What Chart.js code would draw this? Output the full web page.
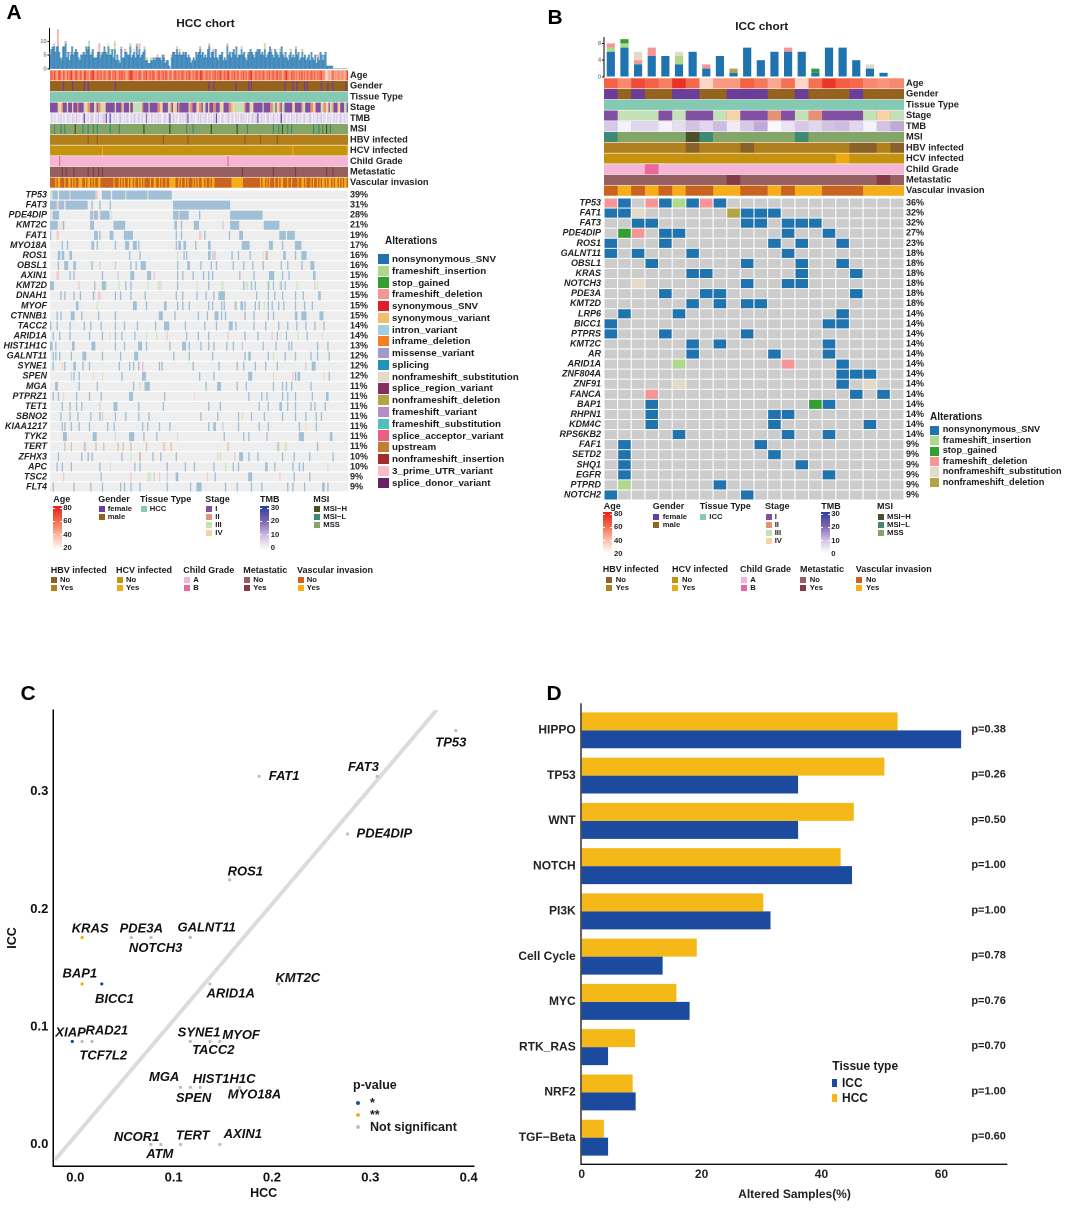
<!DOCTYPE html>
<html>
<head>
<meta charset="utf-8">
<title>HCC / ICC chort</title>
<script src="https://cdn.jsdelivr.net/npm/chart.js@4/dist/chart.umd.min.js"></script>
<style>
  html, body { margin: 0; padding: 0; background: #fff; }
  #page { position: relative; width: 1065px; height: 1209px; overflow: hidden; font-family: "Liberation Sans", Arial, sans-serif; color: #1a1a1a; filter: blur(0.3px); }
  #page canvas { position: absolute; display: block; }
  .t { position: absolute; white-space: nowrap; line-height: 1; transform: translateY(-50%); }
  .s { position: absolute; }
</style>
</head>
<body>
<div id="page"></div>
<script>
// ---------- alteration types ----------
const altNames = ["nonsynonymous_SNV", "frameshift_insertion", "stop_gained", "frameshift_deletion", "synonymous_SNV", "synonymous_variant", "intron_variant", "inframe_deletion", "missense_variant", "splicing", "nonframeshift_substitution", "splice_region_variant", "nonframeshift_deletion", "frameshift_variant", "frameshift_substitution", "splice_acceptor_variant", "upstream", "nonframeshift_insertion", "3_prime_UTR_variant", "splice_donor_variant"];
const altColors = ["#1f74b0", "#aed98c", "#339f33", "#f69596", "#e01f26", "#f7bd6e", "#a3cde2", "#f47f20", "#a09bc9", "#2293b8", "#e3dac8", "#842f5f", "#b3a545", "#b98cc2", "#50bfbd", "#ec5f7e", "#c47c33", "#a12c2d", "#f6bccb", "#6a2063"];
const altLegendB = [0, 1, 2, 3, 10, 12];

// ---------- panel A (HCC) ----------
const samplesA = 230;
const genesA = ["TP53", "FAT3", "PDE4DIP", "KMT2C", "FAT1", "MYO18A", "ROS1", "OBSL1", "AXIN1", "KMT2D", "DNAH1", "MYOF", "CTNNB1", "TACC2", "ARID1A", "HIST1H1C", "GALNT11", "SYNE1", "SPEN", "MGA", "PTPRZ1", "TET1", "SBNO2", "KIAA1217", "TYK2", "TERT", "ZFHX3", "APC", "TSC2", "FLT4"];
const percentA = ["39%", "31%", "28%", "21%", "19%", "17%", "16%", "16%", "15%", "15%", "15%", "15%", "15%", "14%", "14%", "13%", "12%", "12%", "12%", "11%", "11%", "11%", "11%", "11%", "11%", "11%", "10%", "10%", "9%", "9%"];
// samples carrying a nonsynonymous_SNV, one list per gene; [a,b] is a run
const snvA = [
  [[0,5],[7,36],[40,46],[48,93]],
  [[0,4],[7,10],[12,28],32,38,46,[95,138]],
  [[2,6],[31,36],[39,45],[95,106],115,[139,163]],
  [[0,5],10,[31,33],[49,57],[96,97],101,[111,114],[139,145],[165,176]],
  [0,[34,36],38,[46,48],[57,63],97,101,119,138,[146,148],[177,181],[183,188]],
  [9,13,[32,33],36,50,58,[59,60],[64,66],68,97,[99,100],[103,104],112,[122,123],[148,153],[169,171],179,[189,193]],
  [[6,7],[9,10],[15,16],61,69,103,105,[122,123],140,145,154,180,181,189,[194,197]],
  [6,[11,13],[18,19],32,62,66,[70,73],98,[106,107],116,124,128,141,149,156,164,178,183,194,[201,203]],
  [15,18,40,[62,64],[75,77],98,102,110,118,122,125,146,157,[169,172],179,184,[203,204]],
  [[0,2],34,[40,42],58,62,98,122,149,155,158,168,172,178,181,204],
  [8,11,18,23,33,50,54,62,73,97,102,113,120,126,[130,134],159,168,173,179,189,195,[207,208]],
  [20,21,[64,66],74,[88,89],98,102,107,122,125,132,134,143,[147,148],150,158,161,168,171,176,180,189,196,202],
  [5,8,[16,18],24,37,50,[84,86],96,114,121,[127,129],132,135,150,157,168,172,[189,190],[194,197],[208,210]],
  [0,5,15,26,31,39,50,57,67,81,[88,91],104,119,128,[138,140],143,157,166,176,183,190,197,204,211],
  [2,7,15,30,40,50,55,65,105,114,122,150,160,175,182,198],
  [[0,1],4,[17,18],[32,34],50,57,[68,70],74,92,[102,104],107,116,122,126,136,141,164,174,184,186,206,214],
  [2,4,7,16,[25,27],40,54,[65,67],95,107,125,150,[153,154],168,181,189,201,206,215],
  [2,11,[18,19],25,30,53,61,64,68,84,86,110,130,144,149,158,166,175,[202,204]],
  [18,22,55,[71,73],115,126,[153,155],189,[191,192],215],
  [[4,5],22,36,64,[73,76],120,[129,131],144,151,172,179,182,186,201],
  [2,6,20,30,39,[61,63],88,153,163,167,179,183,189,202,[213,214]],
  [9,15,20,24,[49,51],68,87,122,131,161,168,[177,178],183,189,201,204,212],
  [8,15,21,31,38,50,58,68,76,116,129,145,155,165,179,189,197,205,209],
  [9,11,16,22,30,44,49,71,75,84,92,122,[126,127],145,161,168,192,205],
  [[10,12],[33,35],[61,64],72,82,134,149,153,167,[192,195],[216,217]],
  [206],
  [6,24,29,32,55,79,85,97,[146,148],153,160,179,188,200,218],
  [5,9,16,38,65,69,90,104,111,126,141,145,[166,167],173,187,192,195],
  [39,97,98,127,153,[154,155],188,200],
  [2,18,31,40,54,57,62,69,90,108,113,[114,116],135,144,155,163,183,187,196,[210,211],214]
];
// other alterations: [gene row, sample, type]
const otherA = [
  [0,0,1],[0,1,1],[0,15,3],[0,35,3],[0,36,3],[0,58,1],[0,75,1],[1,5,3],[1,6,3],[2,0,3],[2,38,3],[2,33,3],[2,47,1],[2,99,3],
  [3,7,1],[3,9,5],[3,133,8],[4,5,3],[4,6,3],[4,115,3],[4,116,3],[6,98,1],[6,125,8],[6,126,3],[6,127,13],[6,164,1],[6,166,3],[6,167,11],
  [7,38,3],[7,50,8],[8,5,3],[8,6,3],[8,52,8],[8,80,3],[9,22,3],[9,43,1],[9,53,1],[9,75,1],[9,83,1],[9,84,1],[9,85,1],[9,113,1],[9,132,1],[9,133,1],[9,151,1],[9,152,1],[9,169,1],[9,177,1],[9,190,1],[9,204,3],[9,206,1],
  [10,34,1],[10,37,3],[10,38,3],[11,36,1],[11,142,1],[11,165,1],[14,46,5],[14,74,1],[14,82,1],[14,90,3],[14,137,3],[14,171,3],[14,178,18],[14,191,1],[14,210,18],
  [15,148,8],[16,172,1],[17,9,5],[17,71,15],[17,197,8],[18,16,8],[18,33,5],[18,40,5],[18,172,5],[18,187,3],[18,211,5],[19,69,1],[20,10,5],[20,111,18],
  [21,38,3],[22,148,5],[22,40,8],[23,133,8],[23,197,5],[24,98,1],[24,50,6],
  [25,11,16],[25,16,16],[25,26,16],[25,27,8],[25,35,16],[25,41,16],[25,52,16],[25,56,16],[25,62,16],[25,74,16],[25,87,3],[25,88,3],[25,93,16],[25,137,16],[25,175,8],[25,176,16],[25,181,1],[25,182,1],
  [26,69,17],[26,62,1],[26,129,1],[26,131,1],[26,142,3],[27,46,1],[27,135,1],[27,214,1],
  [28,10,3],[28,62,3],[28,75,1],[28,76,1],[28,77,1],[28,80,8],[28,84,3],[28,90,8],[28,121,3],[28,177,3]
];
// top bars: nonsynonymous count per sample, then extras as [sample, count, type]
const barSnvA = [
  5,7,8,8,6,8,8,6,4,3,8,8,9,4,6,3,5,8,5,6,
  7,6,4,3,5,5,6,5,8,7,8,5,5,7,4,4,4,6,6,4,
  5,6,8,6,5,8,5,5,7,4,7,3,5,3,2,7,4,4,6,6,
  5,5,8,4,5,6,4,8,5,7,4,5,6,7,3,3,2,2,3,3,
  4,3,4,4,4,4,3,5,4,2,3,3,1,0,4,6,6,5,7,5,
  6,5,5,6,5,6,4,5,4,2,3,4,3,6,5,6,7,5,6,4,
  5,4,7,8,4,6,6,4,7,4,3,5,5,6,3,4,3,8,5,6,
  4,6,7,5,8,4,5,5,7,5,6,4,3,5,6,7,6,5,4,6,
  6,7,7,5,6,5,7,4,5,6,8,6,5,4,7,6,5,4,6,8,
  5,4,6,4,3,5,6,4,5,4,7,5,6,3,4,6,4,5,3,4,
  5,3,6,4,3,5,2,4,3,6,5,3,5,6,1,1,1,1,1,0,
  0,0,0,0,0,0,0,0,0,0
];
const barOtherA = [[0,1,5],[3,1,6],[6,6,3],[9,1,1],[12,1,8],[16,1,3],[25,1,10],[29,1,5],[30,2,1],[32,1,3],[36,1,10],[38,3,3],[39,1,1],[40,1,3],[45,1,10],[46,2,1],[50,2,1],[50,1,10],[55,1,8],[58,1,3],[62,1,1],[65,1,10],[67,1,8],[69,2,3],[73,1,1],[75,1,5],[78,1,1],[83,1,3],[88,1,3],[94,1,3],[98,1,5],[100,1,1],[104,1,3],[116,1,8],[123,1,3],[126,1,13],[130,1,1],[137,1,3],[148,1,1],[153,1,5],[160,1,8],[166,2,1],[171,1,3],[178,1,1],[180,1,10],[186,1,1],[190,1,3],[195,1,1],[207,1,3]];
// clinical tracks
const ageA = [
  58,62,48,66,55,42,60,70,52,46,62,56,40,64,50,58,72,54,44,60,
  66,52,48,62,58,38,70,64,50,56,42,60,66,72,54,46,62,58,50,68,
  44,56,62,48,52,60,66,40,58,54,64,50,46,62,56,68,52,60,48,44,
  56,62,76,66,54,50,60,46,58,64,52,42,60,56,68,48,54,62,50,66,
  58,44,52,60,64,48,56,62,50,68,54,46,58,60,42,52,66,56,50,62,
  48,58,64,54,46,60,52,66,56,44,62,50,58,68,48,54,78,60,52,46,
  62,56,50,64,42,58,54,66,48,60,52,70,56,46,62,58,50,80,54,44,
  60,52,66,48,56,62,40,58,54,64,50,60,46,56,68,72,52,44,60,58,
  48,62,54,50,66,56,42,60,52,64,46,58,62,50,54,68,48,60,56,44,
  52,62,74,58,50,46,64,54,60,48,56,42,62,52,66,50,58,46,60,54,
  48,64,56,50,62,44,58,52,60,66,48,54,36,30,34,46,38,50,62,44,
  50,42,54,48,44,52,46,40,50,70
];
const tmbA = [
  4,8,3,6,5,2,7,4,9,3,6,5,2,8,4,6,3,7,5,4,
  9,3,6,4,2,8,22,5,4,7,3,6,9,5,2,8,4,10,3,6,
  5,9,7,20,4,6,24,5,3,8,4,6,2,7,9,5,3,6,4,8,
  5,2,7,4,6,9,3,5,8,4,6,7,3,5,18,4,6,2,8,5,
  4,7,3,9,5,6,2,4,8,6,3,7,22,5,4,9,3,6,5,2,
  8,4,7,3,6,9,20,5,4,8,3,6,2,5,7,4,9,3,6,5,
  8,2,7,4,6,3,9,5,24,4,7,2,6,8,3,5,4,9,6,3,
  7,5,2,8,4,6,3,9,5,7,4,6,2,8,3,5,9,4,6,7,
  22,3,5,8,4,6,2,7,9,3,5,4,8,6,2,7,3,5,28,4,
  6,9,3,5,7,2,8,4,6,3,9,5,4,7,2,6,8,3,5,4,
  9,6,2,7,3,5,8,4,6,9,3,7,5,2,8,4,6,3,5,7,
  4,8,2,6,9,3,5,7,4,6
];
const stageRunsA = [1,6,3,1,4,2,2,1,1,3,3,1,1,3,4,1,1,3,2,1,1,4,3,1,4,2,2,2,1,3,3,1,4,1,1,1,2,2,3,2,4,2,1,7,3,1,1,4,2,1,3,1,1,4,4,1,1,2,3,7,2,1,1,4,3,1,1,6,2,2,4,2,1,4,3,2,2,1,1,1,4,2,3,1,1,1,2,1,1,7,3,1,2,2,1,3,4,2,2,2,1,1,3,2,1,2,4,1,1,3,2,2,1,3,3,1,4,2,1,4,2,2,3,1,4,2,3,7,2,1,1,3,3,1,4,2,1,7,3,1,1,5,2,2,3,2,1,1,4,2,2,1,1,1,3,2,1,6,4,2,1,5,2,1,3,2,1,4,2,2,4,2,1,4,3,2,2,2,4,2,1,1,3,2,2,1,1,3,4,2,1,3,3,2,1,1];
const vascRunsA = [4,1,1,2,3,1,2,2,1,1,1,1,2,3,2,1,1,2,1,1,1,1,2,2,10,1,3,1,1,1,1,1,2,1,1,2,1,1,2,1,1,1,1,1,4,1,2,2,2,1,1,1,2,1,2,5,2,1,1,1,2,1,1,1,3,1,1,1,1,1,2,2,1,1,2,1,1,2,13,9,13,1,1,2,1,1,1,1,3,1,2,1,1,2,3,1,2,1,4,1,2,2,1,1,3,1,1,1,2,1,1,1,1,2,1,1,1,2,1,1,1,2,1,1,1,1,1,2,1];
const femaleA = [10,17,26,29,50,122,126,143,153,155,181,187,190,196,198,209,214,218,228];
const msiLowA = [3,8,11,25,29,33,36,46,53,105,110,152,172,176,183,186,203,207,210,216];
const msiHighA = [19,72,92,124,144,179,213];
const hbvNoA = [29,36,87,106,150,162,175];
const hcvYesA = [40,187,229];
const childBA = [7,137];
const metYesA = [9,12,18,29,33,37,40,148,172,189,213,218];

// ---------- panel B (ICC) ----------
const samplesB = 22;
const genesB = ["TP53", "FAT1", "FAT3", "PDE4DIP", "ROS1", "GALNT11", "OBSL1", "KRAS", "NOTCH3", "PDE3A", "KMT2D", "LRP6", "BICC1", "PTPRS", "KMT2C", "AR", "ARID1A", "ZNF804A", "ZNF91", "FANCA", "BAP1", "RHPN1", "KDM4C", "RPS6KB2", "FAF1", "SETD2", "SHQ1", "EGFR", "PTPRD", "NOTCH2"];
const percentB = ["36%", "32%", "32%", "27%", "23%", "18%", "18%", "18%", "18%", "18%", "18%", "14%", "14%", "14%", "14%", "14%", "14%", "14%", "14%", "14%", "14%", "14%", "14%", "14%", "9%", "9%", "9%", "9%", "9%", "9%"];
const snvB = [
  [1,4,6,8],[0,1,10,11,12],[2,3,10,11,13,14,15],[4,5,13,16],[0,4,12,14,17],[0,2,6,13],[3,10,14,17],[6,7,14,18],[10,13,14],[4,7,8,18],
  [6,8,10,11],[1,5,17],[0,16,17],[0,4,10],[6,8,16],[6,12,16],[17],[17,18,19],[17],[18,20],[3,16],[3,12,13],[3,12,19],[5,13,16],
  [1,11],[1,12],[1,14],[1,16],[8],[0,10]
];
const otherB = [[0,0,3],[0,3,3],[0,5,1],[0,7,3],[1,2,10],[1,9,12],[3,1,2],[3,2,3],[8,2,10],[16,5,1],[16,13,3],[18,5,10],[18,19,10],[19,3,3],[20,15,2],[28,1,1]];
const barSnvB = [6,7,3,5,5,3,6,2,5,1,7,4,6,6,6,1,7,7,4,2,1,0];
const barOtherB = [[0,1,1],[0,1,3],[1,1,1],[1,1,2],[2,1,3],[2,2,10],[3,2,3],[5,2,1],[5,1,10],[7,1,3],[9,1,12],[13,1,3],[15,1,2],[19,1,10]];
const ageB = [62,52,68,62,55,75,60,32,48,48,62,56,45,58,32,58,74,63,60,52,50,52];
const stageB = [1,3,3,3,1,3,1,1,3,4,1,1,2,1,3,2,1,1,1,3,4,3];
const tmbB = [8,2,6,6,2,5,9,6,10,3,8,12,1,4,8,6,9,10,6,2,9,12];
const femaleB = [0,2,5,6,9,10,11,14,18];
const msiLowB = [0,7,14];
const msiHighB = [6];
const hbvNoB = [6,10,18,19,21];
const hcvYesB = [17];
const childBB = [3];
const metYesB = [9,20];
const vascYesB = [1,3,5,8,9,12,14,15,19,20,21];

const trackNames = ["Age", "Gender", "Tissue Type", "Stage", "TMB", "MSI", "HBV infected", "HCV infected", "Child Grade", "Metastatic", "Vascular invasion"];

// ---------- panel C ----------
const genesC = ["TP53", "FAT3", "PDE4DIP", "FAT1", "ROS1", "KMT2C", "ARID1A", "GALNT11", "PDE3A", "NOTCH3", "KRAS", "BAP1", "BICC1", "XIAP", "RAD21", "TCF7L2", "SYNE1", "TACC2", "MYOF", "MGA", "SPEN", "HIST1H1C", "MYO18A", "NCOR1", "ATM", "TERT", "AXIN1"];
const hccFreq = [0.39, 0.31, 0.28, 0.19, 0.16, 0.21, 0.14, 0.12, 0.06, 0.08, 0.01, 0.01, 0.03, 0, 0.01, 0.02, 0.12, 0.14, 0.15, 0.11, 0.12, 0.13, 0.17, 0.08, 0.09, 0.11, 0.15];
const iccFreq = [0.352, 0.313, 0.264, 0.313, 0.225, 0.1365, 0.1365, 0.176, 0.176, 0.176, 0.176, 0.1365, 0.1365, 0.0876, 0.0876, 0.0876, 0.0876, 0.0876, 0.0876, 0.0486, 0.0486, 0.0486, 0.0486, 0, 0, 0, 0];
const pGroupC = [2, 2, 2, 2, 2, 2, 2, 2, 2, 2, 1, 1, 0, 0, 2, 2, 2, 2, 2, 2, 2, 2, 2, 2, 2, 2, 2]; // 0 *, 1 **, 2 not significant
const diagonalX = [-0.0176, 0.3705];
const diagonalY = [-0.0132, 0.3694];
const pLabels = ["*", "**", "Not significant"];
const pColors = ["#1a4a9c", "#f2ae14", "#bdbdbd"];
// where each gene name sits relative to its dot, in px
const labelShiftC = [[-5,12.7],[-13.7,-9],[36.7,0],[25,0],[15.7,-7.7],[19,-5.7],[20.7,10],[16.3,-9.7],[10,-8.3],[4.7,11],[8,-8.3],[-2.3,-10],[12.7,15.7],[-1.7,-8.3],[24.7,-10.7],[11.3,14.3],[8.7,-8.3],[3.3,9],[21.3,-6],[-16.3,-10],[3.3,11],[24,-8],[15,7.7],[-14.3,-7],[-1,9.7],[12.3,-8.7],[23,-10.3]];

// ---------- panel D ----------
const pathways = ["HIPPO", "TP53", "WNT", "NOTCH", "PI3K", "Cell Cycle", "MYC", "RTK_RAS", "NRF2", "TGF\u2212Beta"];
const hccAltered = [52.7, 50.5, 45.4, 43.2, 30.3, 19.2, 15.8, 8.9, 8.5, 3.7];
const iccAltered = [63.3, 36.1, 36.1, 45.1, 31.5, 13.5, 18, 4.4, 9, 4.4];
const pathwayP = ["p=0.38", "p=0.26", "p=0.50", "p=1.00", "p=1.00", "p=0.78", "p=0.76", "p=0.70", "p=1.00", "p=0.60"];

// ---------- track colours ----------
const FONT = '"Liberation Sans", Arial, sans-serif';
const stageColors = { 1: "#8250a3", 2: "#e59174", 3: "#c3e0b6", 4: "#f6d3a2" };
const genderColors = ["#6a3d98", "#96631f"];
const tissueColor = "#84cab3";
const msiColors = ["#4b5025", "#3f8a74", "#84a568"];
const hbvColors = ["#8a6228", "#b17f1c"];
const hcvColors = ["#c4920f", "#efa912"];
const childColors = ["#f5b6d6", "#e8689b"];
const metColors = ["#95605f", "#863a49"];
const vascColors = ["#c8641f", "#f5ad19"];
const ageStops = [[20, [255,255,255]], [40, [251,187,165]], [60, [244,105,74]], [80, [232,31,27]]];
const tmbStops = [[0, [255,255,255]], [10, [205,188,224]], [20, [123,100,174]], [30, [43,63,155]]];

function rampColor(stops, v) {
  for (let i = 1; i < stops.length; i++) {
    if (v <= stops[i][0]) {
      const a = stops[i - 1], b = stops[i], f = (v - a[0]) / (b[0] - a[0]);
      return "rgb(" + a[1].map((c, k) => Math.round(c + (b[1][k] - c) * f)).join(",") + ")";
    }
  }
  return "rgb(" + stops[stops.length - 1][1].join(",") + ")";
}
function marked(n, list, colors) {
  const out = [];
  for (let i = 0; i < n; i++) out.push(list.includes(i) ? colors[1] : colors[0]);
  return out;
}
function expandPairs(runs) {
  const out = [];
  for (let i = 0; i < runs.length; i += 2) for (let k = 0; k < runs[i + 1]; k++) out.push(runs[i]);
  return out;
}
function expandAlternating(runs) {
  const out = [];
  runs.forEach((len, i) => { for (let k = 0; k < len; k++) out.push(i % 2); });
  return out;
}
function expandList(list) {
  const out = [];
  list.forEach((item) => {
    if (Array.isArray(item)) { for (let k = item[0]; k <= item[1]; k++) out.push(k); }
    else out.push(item);
  });
  return out;
}
function msiTrack(n, low, high) {
  const out = [];
  for (let i = 0; i < n; i++) out.push(high.includes(i) ? msiColors[0] : low.includes(i) ? msiColors[1] : msiColors[2]);
  return out;
}
function hexA(hex, alpha) {
  return hex + Math.round(alpha * 255).toString(16).padStart(2, "0");
}

// ---------- page helpers ----------
const page = document.getElementById("page");
function addText(x, y, str, font, extra) {
  const el = document.createElement("div");
  el.className = "t";
  el.textContent = str;
  el.style.left = x + "px";
  el.style.top = y + "px";
  el.style.font = font + " " + FONT;
  el.style.lineHeight = "1";
  if (extra) el.style.cssText += extra;
  page.appendChild(el);
}
function addBox(x, y, w, h, color, extra) {
  const el = document.createElement("div");
  el.className = "s";
  el.style.cssText = "left:" + x + "px;top:" + y + "px;width:" + w + "px;height:" + h + "px;background:" + color + ";" + (extra || "");
  page.appendChild(el);
}
function addCanvas(left, top, w, h) {
  const c = document.createElement("canvas");
  c.width = w;
  c.height = h;
  c.style.left = left + "px";
  c.style.top = top + "px";
  page.appendChild(c);
  return c.getContext("2d");
}
// fixes an axis box so plots land where they should; also drops the label overhang padding
function fixWidth(w) {
  return (s) => { s.width = w; s.paddingTop = 0; s.paddingBottom = 0; };
}
function fixHeight(h) {
  return (s) => { s.height = h; s.paddingLeft = 0; s.paddingRight = 0; };
}
const baseOptions = { animation: false, responsive: false, maintainAspectRatio: false, events: [], devicePixelRatio: 2 };
const quiet = { legend: { display: false }, tooltip: { enabled: false } };
const noGrid = { display: false, drawTicks: false };

// ---------- oncoplot pieces ----------
function drawTopBars(left, top, axisW, plotW, plotH, snv, extras, maxY, step, alpha, barFrac) {
  const labels = snv.map((_, i) => String(i));
  const datasets = [{ data: snv, backgroundColor: hexA(altColors[0], alpha) }];
  altColors.forEach((color, type) => {
    const rows = extras.filter((e) => e[2] === type);
    if (!rows.length) return;
    const values = snv.map(() => 0);
    rows.forEach((e) => { values[e[0]] += e[1]; });
    datasets.push({ data: values, backgroundColor: hexA(color, alpha) });
  });
  new Chart(addCanvas(left, top, axisW + plotW, plotH + 5), {
    type: "bar",
    data: { labels: labels, datasets: datasets },
    options: {
      ...baseOptions,
      layout: { padding: { bottom: 5 } },
      plugins: quiet,
      datasets: { bar: { categoryPercentage: 1, barPercentage: barFrac } },
      scales: {
        x: { stacked: true, display: false },
        y: {
          stacked: true, min: 0, max: maxY,
          afterFit: fixWidth(axisW),
          grid: { drawOnChartArea: false, drawTicks: true, tickLength: 2, color: "#000" },
          border: { display: true, color: "#000", width: 1 },
          ticks: { stepSize: step, includeBounds: false, padding: 1, color: "#444", font: { family: FONT, size: 5.5 } }
        }
      }
    }
  });
}

function drawTracks(left, top, plotW, labelW, h, n, tracks) {
  // merge equal neighbours so a flat track has no seams
  const data = [], colors = [], base = [], baseColors = [];
  tracks.forEach((colorsOfTrack, row) => {
    base.push({ x: [0, n], y: trackNames[row] });
    baseColors.push(colorsOfTrack[Math.floor(n / 2)]);
    let start = 0;
    for (let i = 1; i <= n; i++) {
      if (i === n || colorsOfTrack[i] !== colorsOfTrack[start]) {
        data.push({ x: [start, i], y: trackNames[row] });
        colors.push(colorsOfTrack[start]);
        start = i;
      }
    }
  });
  new Chart(addCanvas(left, top, plotW + labelW, h), {
    type: "bar",
    data: { datasets: [
      { data: data, backgroundColor: colors, grouped: false, barPercentage: 0.93, categoryPercentage: 1 },
      { data: base, backgroundColor: baseColors, grouped: false, barPercentage: 0.93, categoryPercentage: 1 }
    ] },
    options: {
      ...baseOptions,
      indexAxis: "y",
      plugins: quiet,
      scales: {
        x: { type: "linear", min: 0, max: n, display: false },
        y: {
          type: "category", labels: trackNames, position: "right", offset: true,
          afterFit: fixWidth(labelW),
          grid: noGrid, border: { display: false },
          ticks: { autoSkip: false, padding: 2, color: "#222", font: { family: FONT, size: 9.3, weight: "bold" } }
        }
      }
    }
  });
}

function drawGenes(left, top, leftW, plotW, rightW, h, n, genes, percent, snv, other, bgColor, alpha, gap) {
  const sets = altColors.map(() => []);
  const cell = (i) => [i + gap, i + 1 - gap];
  genes.forEach((g, row) => {
    expandList(snv[row]).forEach((i) => {
      if (!other.some((o) => o[0] === row && o[1] === i)) sets[0].push({ x: cell(i), y: g });
    });
  });
  other.forEach((o) => { sets[o[2]].push({ x: cell(o[1]), y: genes[o[0]] }); });
  const bg = [];
  genes.forEach((g) => {
    if (gap) { for (let i = 0; i < n; i++) bg.push({ x: cell(i), y: g }); }
    else bg.push({ x: [0, n], y: g });
  });
  const datasets = [];
  sets.forEach((d, type) => {
    if (d.length) datasets.push({ data: d, backgroundColor: hexA(altColors[type], alpha), grouped: false, barPercentage: 0.9, categoryPercentage: 1 });
  });
  datasets.push({ data: bg, backgroundColor: bgColor, grouped: false, barPercentage: 0.9, categoryPercentage: 1 });
  new Chart(addCanvas(left, top, leftW + plotW + rightW, h), {
    type: "bar",
    data: { datasets: datasets },
    options: {
      ...baseOptions,
      indexAxis: "y",
      plugins: quiet,
      scales: {
        x: { type: "linear", min: 0, max: n, display: false },
        y: {
          type: "category", labels: genes, position: "left", offset: true,
          afterFit: fixWidth(leftW),
          grid: noGrid, border: { display: false },
          ticks: { autoSkip: false, padding: 3, color: "#222", font: { family: FONT, size: 9, weight: "bold", style: "italic" } }
        },
        y2: {
          type: "category", labels: percent, position: "right", offset: true,
          afterFit: fixWidth(rightW),
          grid: noGrid, border: { display: false },
          ticks: { autoSkip: false, padding: 2, color: "#222", font: { family: FONT, size: 9, weight: "bold" } }
        }
      }
    }
  });
}

// ---------- panel A ----------
const LETTER = "bold 21px";
addText(6.5, 11, "A", LETTER, "color:#000");
addText(205.5, 24, "HCC chort", "bold 11.8px", "transform:translate(-50%,-50%)");
drawTopBars(20, 28, 29.5, 298, 41, barSnvA, barOtherA, 14.8, 5, 0.72, 1);
drawTracks(49.5, 70, 298, 90, 118, samplesA, [
  ageA.map((v) => rampColor(ageStops, v)),
  marked(samplesA, femaleA, [genderColors[1], genderColors[0]]),
  ageA.map(() => tissueColor),
  expandPairs(stageRunsA).map((s) => stageColors[s]),
  tmbA.map((v) => rampColor(tmbStops, v)),
  msiTrack(samplesA, msiLowA, msiHighA),
  marked(samplesA, hbvNoA, [hbvColors[1], hbvColors[0]]),
  marked(samplesA, hcvYesA, hcvColors),
  marked(samplesA, childBA, childColors),
  marked(samplesA, metYesA, metColors),
  expandAlternating(vascRunsA).map((v) => vascColors[v])
]);
drawGenes(0.5, 190, 49, 298, 53, 302, samplesA, genesA, percentA, snvA, otherA, "#eeeeee", 0.38, 0);

// ---------- panel B ----------
addText(547.5, 15.5, "B", LETTER, "color:#000");
addText(761.7, 27, "ICC chort", "bold 11.8px", "transform:translate(-50%,-50%)");
drawTopBars(580, 37, 24, 300, 40, barSnvB, barOtherB, 9.52, 2, 1, 0.6);
drawTracks(604, 78, 300, 110, 118, samplesB, [
  ageB.map((v) => rampColor(ageStops, v)),
  marked(samplesB, femaleB, [genderColors[1], genderColors[0]]),
  ageB.map(() => tissueColor),
  stageB.map((s) => stageColors[s]),
  tmbB.map((v) => rampColor(tmbStops, v)),
  msiTrack(samplesB, msiLowB, msiHighB),
  marked(samplesB, hbvNoB, [hbvColors[1], hbvColors[0]]),
  marked(samplesB, hcvYesB, hcvColors),
  marked(samplesB, childBB, childColors),
  marked(samplesB, metYesB, metColors),
  marked(samplesB, vascYesB, vascColors)
]);
drawGenes(540, 198, 64, 300, 46, 302, samplesB, genesB, percentB, snvB, otherB, "#cccccc", 1, 0.04);

// ---------- legends of A and B ----------
function altLegend(titleX, titleY, swatchX, swatchW, swatchH, textX, firstY, pitch, font, which) {
  addText(titleX, titleY, "Alterations", "bold 10px");
  which.forEach((type, i) => {
    addBox(swatchX, firstY + pitch * i - swatchH / 2, swatchW, swatchH, altColors[type]);
    addText(textX, firstY + pitch * i, altNames[type], font);
  });
}
function keyGroup(title, titleX, titleY, swatchX, textX, firstY, pitch, labels, colors) {
  addText(titleX, titleY, title, "bold 9px");
  labels.forEach((label, i) => {
    addBox(swatchX, firstY + pitch * i - 3.2, 6.2, 6.4, colors[i]);
    addText(textX, firstY + pitch * i, label, "bold 7.7px");
  });
}
function rampKey(title, titleX, titleY, barX, barTop, barBottom, labelX, ticks, ticksY, gradient) {
  addText(titleX, titleY, title, "bold 9px");
  addBox(barX, barTop, 9, barBottom - barTop, "linear-gradient(to top," + gradient + ")");
  ticks.forEach((label, i) => {
    addText(labelX, ticksY[i], label, "bold 7.7px");
    if (i < ticks.length - 1) {
      addBox(barX, ticksY[i] - 0.4, 2, 0.8, "#fff");
      addBox(barX + 7, ticksY[i] - 0.4, 2, 0.8, "#fff");
    }
  });
}
const ageGradient = ageStops.map((s) => "rgb(" + s[1].join(",") + ")").join(",");
const tmbGradient = tmbStops.map((s) => "rgb(" + s[1].join(",") + ")").join(",");
const noYes = ["No", "Yes"];
const stageKeys = ["I", "II", "III", "IV"];
const stageKeyColors = [stageColors[1], stageColors[2], stageColors[3], stageColors[4]];
const msiKeys = ["MSI\u2212H", "MSI\u2212L", "MSS"];

altLegend(385, 240.7, 378.3, 10.5, 10.2, 392, 259, 11.77, "bold 9.8px", altNames.map((_, i) => i));
rampKey("Age", 53.3, 499.3, 52.7, 506, 550, 63.3, ["80", "60", "40", "20"], [508.3, 521.3, 534.7, 548], ageGradient);
keyGroup("Gender", 98.3, 499.3, 99, 107.7, 508.7, 8.2, ["female", "male"], genderColors);
keyGroup("Tissue Type", 140, 499.3, 140.7, 149.7, 508.7, 8.2, ["HCC"], [tissueColor]);
keyGroup("Stage", 205.3, 499.3, 206, 215.3, 508.7, 8.1, stageKeys, stageKeyColors);
rampKey("TMB", 260, 499.3, 260, 506, 550, 270.7, ["30", "20", "10", "0"], [508.3, 521.3, 534.7, 548], tmbGradient);
keyGroup("MSI", 313.3, 499.3, 314, 323.3, 508.7, 8.1, msiKeys, msiColors);
keyGroup("HBV infected", 50.7, 570, 51.3, 60, 580, 8.1, noYes, hbvColors);
keyGroup("HCV infected", 116, 570, 116.7, 126, 580, 8.1, noYes, hcvColors);
keyGroup("Child Grade", 183.3, 570, 184, 193.3, 580, 8.1, ["A", "B"], childColors);
keyGroup("Metastatic", 243.3, 570, 244, 253.3, 580, 8.1, noYes, metColors);
keyGroup("Vascular invasion", 297, 570, 297.7, 306.7, 580, 8.1, noYes, vascColors);

altLegend(930, 416.7, 930.3, 9, 9.4, 942.7, 430.3, 10.47, "bold 9.2px", altLegendB);
rampKey("Age", 603.7, 506, 603.3, 512, 553, 614, ["80", "60", "40", "20"], [514.3, 527.3, 540.7, 553.7], ageGradient);
keyGroup("Gender", 652.7, 506, 653.3, 662.7, 516.7, 8.2, ["female", "male"], genderColors);
keyGroup("Tissue Type", 699.7, 506, 700.3, 709.3, 516.7, 8.2, ["ICC"], [tissueColor]);
keyGroup("Stage", 765, 506, 765.7, 774.7, 516.7, 8.1, stageKeys, stageKeyColors);
rampKey("TMB", 821.3, 506, 820.7, 512, 553, 831.3, ["30", "20", "10", "0"], [514.3, 527.3, 540.7, 553.7], tmbGradient);
keyGroup("MSI", 877, 506, 878, 887, 516.7, 8.1, msiKeys, msiColors);
keyGroup("HBV infected", 602.7, 568.7, 606.3, 615.7, 580, 8.1, noYes, hbvColors);
keyGroup("HCV infected", 672, 568.7, 672.3, 682, 580, 8.1, noYes, hcvColors);
keyGroup("Child Grade", 740, 568.7, 741, 750.3, 580, 8.1, ["A", "B"], childColors);
keyGroup("Metastatic", 800, 568.7, 800.3, 809.7, 580, 8.1, noYes, metColors);
keyGroup("Vascular invasion", 855.7, 568.7, 856.3, 866, 580, 8.1, noYes, vascColors);

// ---------- panel C: scatter ----------
addText(20.5, 691.5, "C", LETTER, "color:#000");
const scatterLabels = {
  id: "scatterLabels",
  afterDatasetsDraw(chart) {
    const { ctx, scales } = chart;
    ctx.save();
    ctx.font = 'italic bold 13px ' + FONT;
    ctx.fillStyle = "#111";
    ctx.textAlign = "center";
    ctx.textBaseline = "middle";
    genesC.forEach((g, i) => {
      ctx.fillText(g, scales.x.getPixelForValue(hccFreq[i]) + labelShiftC[i][0], scales.y.getPixelForValue(iccFreq[i]) + labelShiftC[i][1]);
    });
    ctx.restore();
  }
};
const axisFontC = { family: FONT, size: 13, weight: "bold" };
new Chart(addCanvas(0, 706, 490, 500), {
  type: "scatter",
  data: {
    datasets: [0, 1, 2].map((group) => ({
      data: genesC.map((_, i) => ({ x: hccFreq[i], y: iccFreq[i], group: pGroupC[i] })).filter((p) => p.group === group),
      backgroundColor: pColors[group],
      pointRadius: 1.6,
      borderWidth: 0
    })).concat([{
      data: diagonalX.map((x, i) => ({ x: x, y: diagonalY[i] })),
      showLine: true, borderColor: "#dcdcdc", borderWidth: 4, pointRadius: 0
    }])
  },
  options: {
    ...baseOptions,
    layout: { padding: { right: 16 } },
    plugins: quiet,
    scales: {
      x: {
        type: "linear", min: -0.0193, max: 0.4085,
        afterFit: fixHeight(40),
        grid: noGrid,
        border: { display: true, color: "#000", width: 1.5 },
        afterBuildTicks: (s) => { s.ticks = [0, 0.1, 0.2, 0.3, 0.4].map((v) => ({ value: v })); },
        ticks: { padding: 4, labelOffset: 3, maxRotation: 0, color: "#111", font: axisFontC, callback: (v) => v.toFixed(1) },
        title: { display: true, text: "HCC", color: "#111", font: { family: FONT, size: 12.5, weight: "bold" }, padding: { top: 0, bottom: 5 } }
      },
      y: {
        type: "linear", min: -0.0183, max: 0.3694,
        afterFit: fixWidth(53.3),
        grid: noGrid,
        border: { display: true, color: "#000", width: 1.5 },
        afterBuildTicks: (s) => { s.ticks = [0, 0.1, 0.2, 0.3].map((v) => ({ value: v })); },
        ticks: { padding: 5, color: "#111", font: axisFontC, callback: (v) => v.toFixed(1) },
        title: { display: true, text: "ICC", color: "#111", font: { family: FONT, size: 12.5, weight: "bold" }, padding: { top: 5, bottom: 0 } }
      }
    }
  },
  plugins: [scatterLabels]
});
addText(353, 1085, "p-value", "bold 12.5px");
pLabels.forEach((label, i) => {
  const y = [1103, 1115, 1127][i];
  addBox(356, y - 2, 4, 4, pColors[i], "border-radius:50%");
  addText(370, y, label, "bold 12.5px");
});

// ---------- panel D: bars ----------
addText(546.5, 691.5, "D", LETTER, "color:#000");
const pathwayExtras = {
  id: "pathwayExtras",
  afterDraw(chart) {
    const { ctx, scales, chartArea } = chart;
    ctx.save();
    // axis lines run a little past the category bands
    ctx.strokeStyle = "#111";
    ctx.lineWidth = 1.3;
    ctx.beginPath();
    ctx.moveTo(chartArea.left - 0.7, chartArea.top - 4.4);
    ctx.lineTo(chartArea.left - 0.7, chartArea.bottom + 4);
    ctx.lineTo(chartArea.right, chartArea.bottom + 4);
    ctx.stroke();
    ctx.font = "bold 11px " + FONT;
    ctx.fillStyle = "#222";
    ctx.textBaseline = "middle";
    pathwayP.forEach((p, i) => {
      ctx.fillText(p, scales.x.getPixelForValue(65), scales.y.getPixelForTick(i) - 1);
    });
    ctx.restore();
  }
};
const axisFontD = { family: FONT, size: 12, weight: "bold" };
new Chart(addCanvas(500, 700, 520, 505), {
  type: "bar",
  data: {
    labels: pathways,
    datasets: [
      { data: hccAltered, backgroundColor: "#f4b918", barPercentage: 1, categoryPercentage: 0.794 },
      { data: iccAltered, backgroundColor: "#1b4a9e", barPercentage: 1, categoryPercentage: 0.794 }
    ]
  },
  options: {
    ...baseOptions,
    indexAxis: "y",
    layout: { padding: { top: 7.7, right: 12.7 } },
    plugins: quiet,
    scales: {
      x: {
        type: "linear", min: 0, max: 71,
        afterFit: fixHeight(44.7),
        grid: noGrid, border: { display: false },
        ticks: { stepSize: 20, padding: 7, color: "#222", font: axisFontD, includeBounds: false },
        title: { display: true, text: "Altered Samples(%)", color: "#222", font: axisFontD, padding: { top: 0, bottom: 3 } }
      },
      y: {
        afterFit: fixWidth(81.7),
        grid: noGrid, border: { display: false },
        ticks: { padding: 6, autoSkip: false, color: "#222", font: axisFontD }
      }
    }
  },
  plugins: [pathwayExtras]
});
addText(832.3, 1065.7, "Tissue type", "bold 12px");
addBox(832, 1079, 5.3, 8, "#1b4a9e");
addText(842, 1083, "ICC", "bold 12px");
addBox(832, 1094, 5.3, 8, "#f4b918");
addText(842, 1098, "HCC", "bold 12px");
</script>
</body>
</html>
